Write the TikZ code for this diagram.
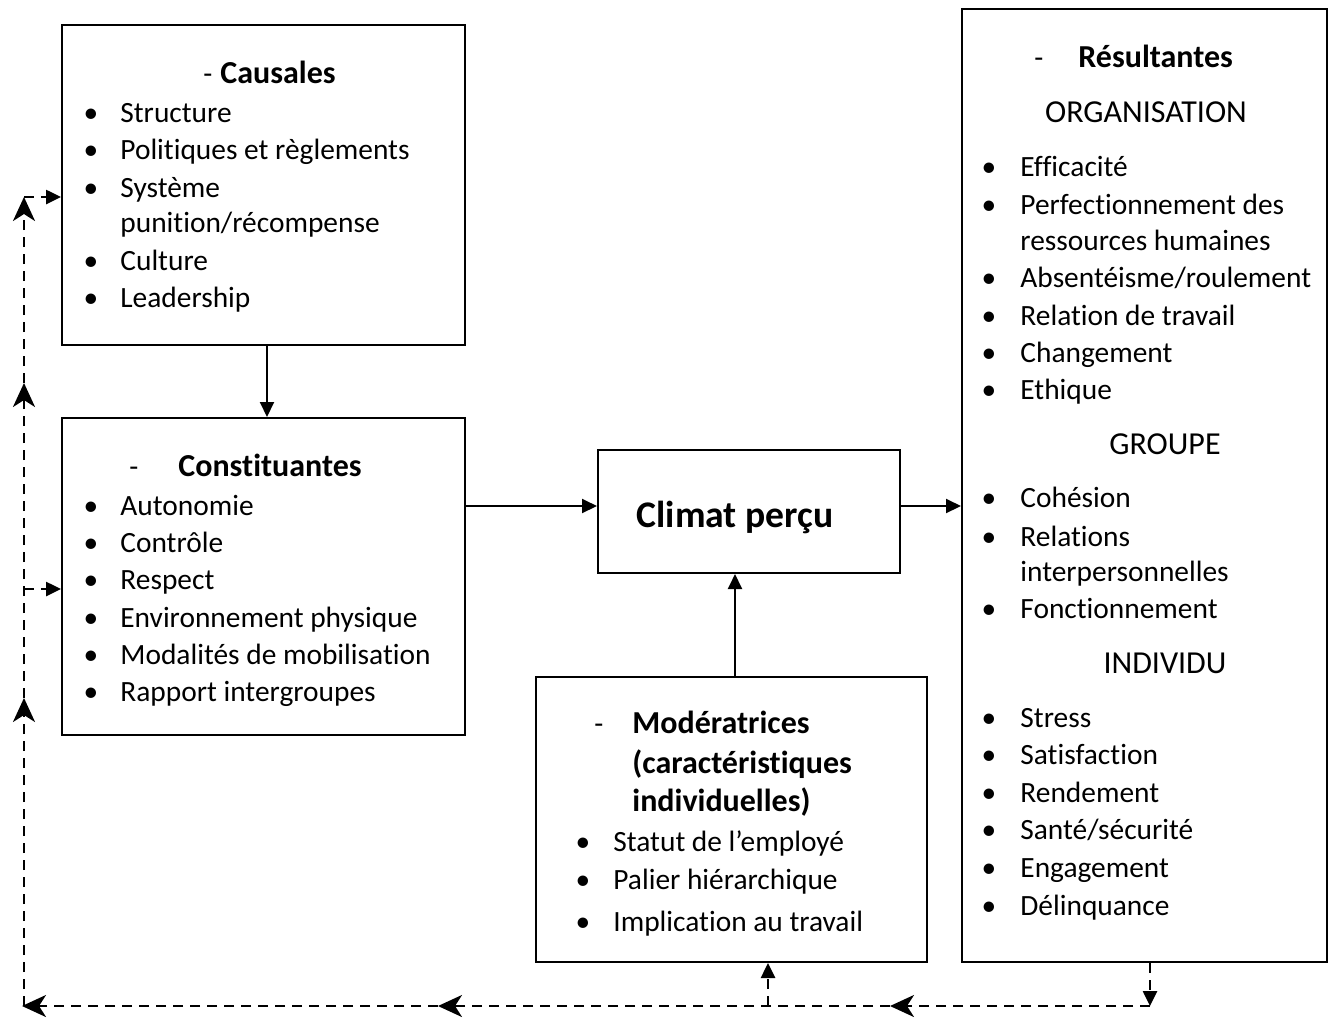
\documentclass[tikz,border=0pt]{standalone}
\usepackage{fontspec}
\setmainfont{Carlito}[Ligatures=NoCommon]
\usetikzlibrary{arrows.meta}

\tikzset{
  frame/.style={draw, line width=1pt, inner sep=0pt, rectangle},
  flow/.style={line width=1pt, -{Triangle[length=7.5pt,width=7pt]}},
  fb/.style={line width=1.3pt, dash pattern=on 5pt off 3.5pt},
  fbmid/.style={fb, -{Stealth[length=12pt,width=11pt,inset=3.5pt]}},
  fbend/.style={fb, -{Triangle[length=7.5pt,width=7pt]}},
  txt/.style={anchor=west, inner sep=0pt, text height=0.7em, text depth=0.25em,
              yshift=-3pt, font=\fontsize{14.7}{18}\selectfont},
  hd/.style={txt, font=\fontsize{16}{19}\selectfont\bfseries},
  ctr/.style={txt, anchor=center},
  sect/.style={ctr, font=\fontsize{16}{19}\selectfont},
  bul/.style={txt, anchor=center}
}

\begin{document}
\begin{tikzpicture}[x=0.5pt, y=-0.5pt]
\useasboundingbox (0,0) rectangle (1333,1019);

% ---- boxes
\node[frame, minimum width=201.5pt, minimum height=160pt]   (caus) at (263.5,185) {};
\node[frame, minimum width=201.5pt, minimum height=158.5pt] (cons) at (263.5,576.5) {};
\node[frame, minimum width=151pt,   minimum height=61.5pt]  (clim) at (749,511.5) {};
\node[frame, minimum width=195.5pt, minimum height=142.5pt] (mod)  at (731.5,819.5) {};
\node[frame, minimum width=182.5pt, minimum height=476.5pt] (res)  at (1144.5,485.5) {};

% ---- Causales
\node[txt] (cdash) at (203,73) {-};
\node[hd]  (chd)   at (220,73) {Causales};
\foreach \y/\t [count=\i] in {112/Structure, 149/Politiques et règlements, 187/Système, 260/Culture, 297/Leadership}{
  \node[bul] (cb\i) at (91,\y) {•};
  \node[txt] (ct\i) at (120,\y) {\t};
}
\node[txt] (ct6) at (120,222) {punition/récompense};

% ---- Constituantes
\node[txt] (kdash) at (129,466) {-};
\node[hd]  (khd)   at (178,466) {Constituantes};
\foreach \y/\t [count=\i] in {505/Autonomie, 542/Contrôle, 579/Respect, 617/Environnement physique, 654/Modalités de mobilisation, 691/Rapport intergroupes}{
  \node[bul] (kb\i) at (91,\y) {•};
  \node[txt] (kt\i) at (120,\y) {\t};
}

% ---- Climat perçu
\node[ctr, font=\fontsize{18.8}{22}\selectfont\bfseries] (cltxt) at (735,517) {Climat perçu};

% ---- Modératrices
\node[txt] (mdash) at (594,723) {-};
\node[hd]  (mhd1)  at (632,723) {Modératrices};
\node[hd]  (mhd2)  at (632,763) {(caractéristiques};
\node[hd]  (mhd3)  at (632,801) {individuelles)};
\foreach \y/\t [count=\i] in {841/Statut de l’employé, 879/Palier hiérarchique, 921/Implication au travail}{
  \node[bul] (mb\i) at (583,\y) {•};
  \node[txt] (mt\i) at (613,\y) {\t};
}

% ---- Résultantes
\node[txt]  (rdash) at (1034,57) {-};
\node[hd]   (rhd)   at (1078,57) {Résultantes};
\node[sect] (rorg)  at (1146,112) {ORGANISATION};
\foreach \y/\t [count=\i] in {166/Efficacité, 204/Perfectionnement des, 277/{Absentéisme/roulement}, 315/Relation de travail, 352/Changement, 389/Ethique}{
  \node[bul] (ob\i) at (989,\y) {•};
  \node[txt] (ot\i) at (1020,\y) {\t};
}
\node[txt]  (ot7) at (1020,240) {ressources humaines};
\node[sect] (rgrp)  at (1165,444) {GROUPE};
\foreach \y/\t [count=\i] in {497/Cohésion, 536/Relations, 608/Fonctionnement}{
  \node[bul] (gb\i) at (989,\y) {•};
  \node[txt] (gt\i) at (1020,\y) {\t};
}
\node[txt]  (gt4) at (1020,571) {interpersonnelles};
\node[sect] (rind)  at (1165,663) {INDIVIDU};
\foreach \y/\t [count=\i] in {717/Stress, 754/Satisfaction, 792/Rendement, 829/{Santé/sécurité}, 867/Engagement, 905/Délinquance}{
  \node[bul] (ib\i) at (989,\y) {•};
  \node[txt] (it\i) at (1020,\y) {\t};
}

% ---- main flow
\coordinate (xa) at (267,0);
\coordinate (xm) at (735,0);
\coordinate (yf) at (0,506);
\draw[flow] (caus.south -| xa) -- (cons.north -| xa);
\draw[flow] (cons.east |- yf) -- (clim.west |- yf);
\draw[flow] (clim.east |- yf) -- (res.west |- yf);
\draw[flow] (mod.north -| xm) -- (clim.south -| xm);

% ---- feedback loop
\coordinate (r0) at (1150,962);
\coordinate (r1) at (1150,1006);
\coordinate (b1) at (890,1006);
\coordinate (bm) at (768,1006);
\coordinate (b2) at (438,1006);
\coordinate (c0) at (22,1006);
\coordinate (v1) at (24,698);
\coordinate (vb) at (24,589);
\coordinate (v2) at (24,383);
\coordinate (v3) at (24,197);
\coordinate (vb0) at (24,1006);

\draw[fbend] (res.south -| r0) -- (r1);
\draw[fbmid] (r1) -- (b1);
\draw[fbmid] (b1) -- (b2);
\draw[fbmid] (b2) -- (c0);
\draw[fbmid] (vb0) -- (v1);
\draw[fbmid] (v1) -- (v2);
\draw[fbmid] (v2) -- (v3);
\draw[fbend] (v3) -- (caus.west |- v3);
\draw[fbend] (vb) -- (cons.west |- vb);
\draw[fbend] (bm) -- (mod.south -| bm);
\end{tikzpicture}
\end{document}
